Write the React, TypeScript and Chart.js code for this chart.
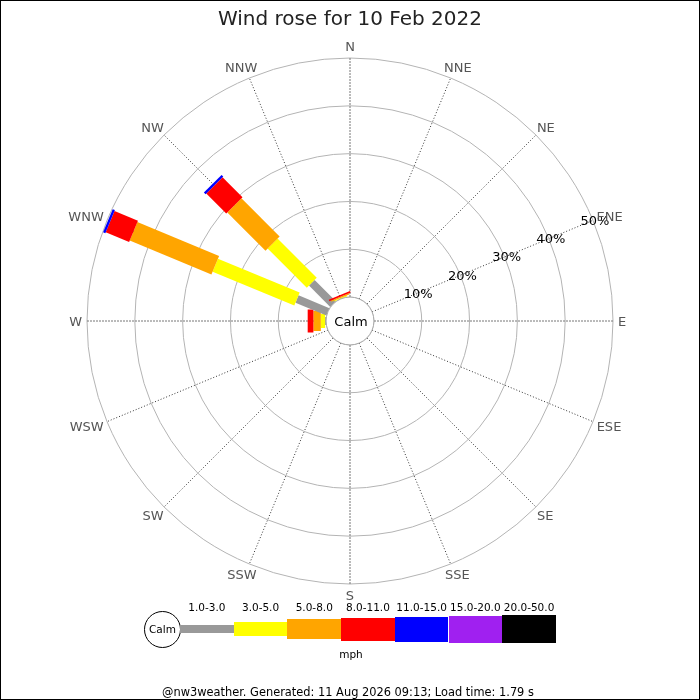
import React, { useEffect, useRef } from 'react';
import { Chart, registerables } from 'chart.js';

Chart.register(...registerables);

const directions = ['N', 'NNE', 'NE', 'ENE', 'E', 'ESE', 'SE', 'SSE', 'S', 'SSW', 'SW', 'WSW', 'W', 'WNW', 'NW', 'NNW'];
const speedBins = ['1.0-3.0', '3.0-5.0', '5.0-8.0', '8.0-11.0', '11.0-15.0', '15.0-20.0', '20.0-50.0'];
const binColors = ['#999999', '#ffff00', '#ffa500', '#ff0000', '#0000ff', '#a020f0', '#000000'];
const binWidths = [8, 14, 20, 23, 25, 27, 28];

// % of the day per direction (N .. NNW) for each speed bin (mph)
const bin1 = [0, 0, 0, 0, 0, 0, 0, 0, 0, 0, 0, 0, 0.2, 7.0, 6.3, 0];
const bin2 = [0, 0, 0, 0, 0, 0, 0, 0, 0, 0, 0, 0, 0.9, 18.5, 11.6, 0.2];
const bin3 = [0, 0, 0, 0, 0, 0, 0, 0, 0, 0, 0, 0, 1.55, 18.5, 11.3, 0.25];
const bin4 = [0, 0, 0, 0, 0, 0, 0, 0, 0, 0, 0, 0, 1.2, 5.3, 5.9, 0.35];
const bin5 = [0, 0, 0, 0, 0, 0, 0, 0, 0, 0, 0, 0, 0, 0.5, 0.5, 0];
const bin6 = [0, 0, 0, 0, 0, 0, 0, 0, 0, 0, 0, 0, 0, 0, 0, 0];
const bin7 = [0, 0, 0, 0, 0, 0, 0, 0, 0, 0, 0, 0, 0, 0, 0, 0];
const binSeries = [bin1, bin2, bin3, bin4, bin5, bin6, bin7];

const ringTicks = [0, 10, 20, 30, 40, 50];
const ringLabels = ['10%', '20%', '30%', '40%', '50%'];

const FONT = '"DejaVu Sans", sans-serif';

const rosePlugin = {
  id: 'rose',
  afterDatasetsDraw(chart: any) {
    const scale = chart.scales.r;
    const ctx = chart.ctx;
    ctx.save();
    ctx.lineCap = 'butt';
    directions.forEach((_, i) => {
      let cum = 0;
      chart.data.datasets.forEach((ds: any, k: number) => {
        const v = ds.data[i];
        if (!v) return;
        const p0 = scale.getPointPositionForValue(i, cum);
        const p1 = scale.getPointPositionForValue(i, cum + v);
        ctx.strokeStyle = binColors[k];
        ctx.lineWidth = binWidths[k];
        ctx.beginPath();
        ctx.moveTo(p0.x, p0.y);
        ctx.lineTo(p1.x, p1.y);
        ctx.stroke();
        cum += v;
      });
    });
    // calm circle
    const rc = scale.getDistanceFromCenterForValue(0);
    ctx.beginPath();
    ctx.arc(scale.xCenter, scale.yCenter, rc, 0, Math.PI * 2);
    ctx.fillStyle = '#ffffff';
    ctx.fill();
    ctx.strokeStyle = '#aaaaaa';
    ctx.lineWidth = 1;
    ctx.stroke();
    ctx.fillStyle = '#000000';
    ctx.font = '13px ' + FONT;
    ctx.textAlign = 'center';
    ctx.textBaseline = 'middle';
    ctx.fillText('Calm', scale.xCenter + 1, scale.yCenter + 2);
    // ring labels along ENE
    ringLabels.forEach((t, j) => {
      const p = scale.getPointPositionForValue(3, ringTicks[j + 1]);
      ctx.fillText(t, p.x + 2, p.y + 1);
    });
    // direction labels
    ctx.fillStyle = '#555555';
    directions.forEach((d, i) => {
      const p = scale.getPointPosition(i, scale.drawingArea + 5);
      const a = p.angle + Math.PI / 2;
      const w = ctx.measureText(d).width;
      const x = p.x + (w / 2) * Math.sin(a);
      const y = p.y - 6.5 * Math.cos(a) + 1.5;
      ctx.fillText(d, x, y);
    });
    ctx.restore();
  },
};

export default function App() {
  const ref = useRef<HTMLCanvasElement | null>(null);

  useEffect(() => {
    if (!ref.current) return;
    const chart = new Chart(ref.current, {
      type: 'radar',
      data: {
        labels: directions,
        datasets: binSeries.map((d, k) => ({
          label: speedBins[k],
          data: d,
          showLine: false,
          fill: false,
          borderWidth: 0,
          pointRadius: 0,
          pointHoverRadius: 0,
          backgroundColor: 'rgba(0,0,0,0)',
          borderColor: 'rgba(0,0,0,0)',
        })),
      },
      options: {
        responsive: false,
        animation: false,
        layout: { padding: { left: 87, right: 87, top: 58, bottom: 116 } },
        plugins: { legend: { display: false }, tooltip: { enabled: false }, title: { display: false } },
        scales: {
          r: {
            min: -5,
            max: 50,
            startAngle: 0,
            afterBuildTicks: (s: any) => {
              s.ticks = ringTicks.map((v) => ({ value: v }));
            },
            ticks: { display: false },
            pointLabels: { display: false },
            grid: { circular: true, color: '#b4b4b4', lineWidth: 1 },
            angleLines: {
              color: (c: any) => (c.index % 4 === 0 ? '#777777' : '#333333'),
              borderDash: (c: any) => (c.index % 4 === 0 ? [2, 1] : [1, 2]),
              lineWidth: 1,
            },
          },
        },
      } as any,
      plugins: [rosePlugin],
    });
    return () => chart.destroy();
  }, []);

  const legLeft = 180;
  const legStep = 53.7;
  const legMid = 629;

  return (
    <div style={{ position: 'fixed', left: 0, top: 0, width: 700, height: 700, background: '#fff', fontFamily: FONT, overflow: 'hidden' }}>
      <canvas ref={ref} width={700} height={700} style={{ position: 'absolute', left: 0, top: 0, width: 700, height: 700 }} />
      <div style={{ position: 'absolute', left: 350, top: 18, transform: 'translate(-50%,-50%)', fontSize: 20, lineHeight: '20px', color: '#222', whiteSpace: 'nowrap' }}>
        Wind rose for 10 Feb 2022
      </div>
      {/* legend */}
      <div style={{ position: 'absolute', left: 144, top: legMid - 18.5, width: 37, height: 37, borderRadius: '50%', border: '1px solid #000', boxSizing: 'border-box', background: '#fff' }} />
      <div style={{ position: 'absolute', left: 162.5, top: legMid, transform: 'translate(-50%,-50%)', fontSize: 10.5, lineHeight: '11px', color: '#000', whiteSpace: 'nowrap' }}>Calm</div>
      {speedBins.map((b, k) => (
        <React.Fragment key={b}>
          <div style={{ position: 'absolute', left: legLeft + k * legStep, top: legMid - binWidths[k] / 2, width: legStep, height: binWidths[k], background: binColors[k] }} />
          <div style={{ position: 'absolute', left: legLeft + k * legStep + legStep / 2, top: 607, transform: 'translate(-50%,-50%)', fontSize: 10.5, lineHeight: '11px', color: '#000', whiteSpace: 'nowrap' }}>{b}</div>
        </React.Fragment>
      ))}
      <div style={{ position: 'absolute', left: 351, top: 653.5, transform: 'translate(-50%,-50%)', fontSize: 10.5, lineHeight: '11px', color: '#000', whiteSpace: 'nowrap' }}>mph</div>
      <div style={{ position: 'absolute', left: 348, top: 691.5, transform: 'translate(-50%,-50%)', fontSize: 11.4, lineHeight: '12px', color: '#000', whiteSpace: 'nowrap' }}>
        @nw3weather. Generated: 11 Aug 2026 09:13; Load time: 1.79 s
      </div>
      <div style={{ position: 'absolute', left: 0, top: 0, width: 700, height: 700, border: '1px solid #000', boxSizing: 'border-box', pointerEvents: 'none' }} />
    </div>
  );
}
